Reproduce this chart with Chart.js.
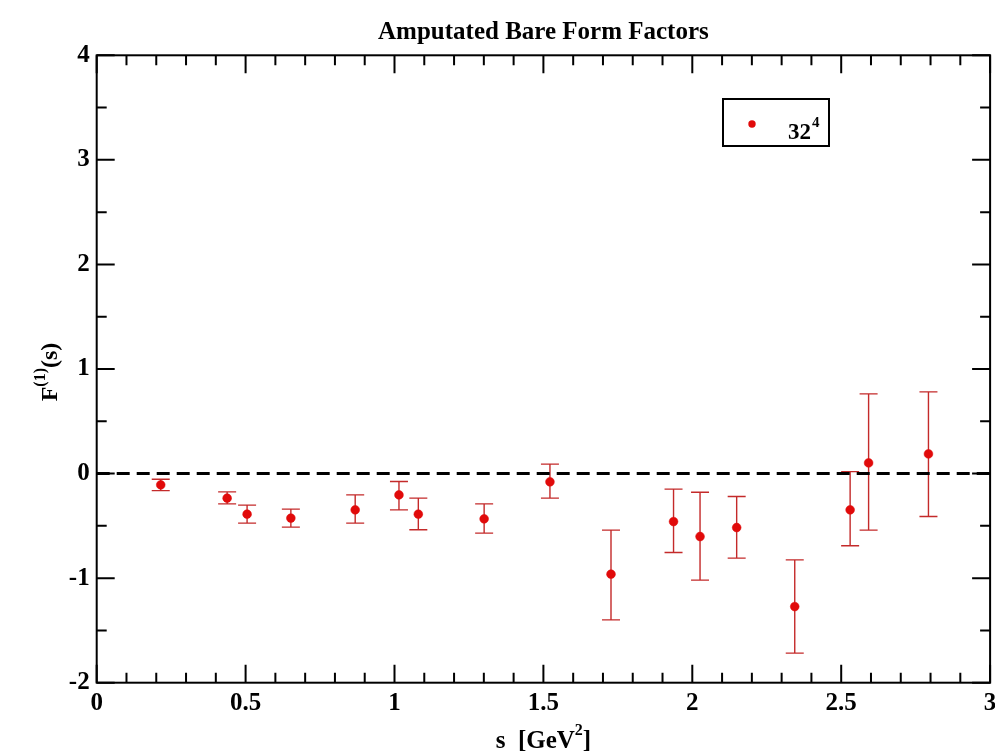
<!DOCTYPE html>
<html>
<head>
<meta charset="utf-8">
<script src="https://cdn.jsdelivr.net/npm/chart.js@4.4.0/dist/chart.umd.min.js"></script>
<style>
html,body{margin:0;padding:0;background:#fff;overflow:hidden;}
canvas{display:block;}
</style>
</head>
<body>
<canvas id="c" width="995" height="756"></canvas>
<script>
// ---- data ----
const sValues = [0.215, 0.438, 0.505, 0.652, 0.868, 1.015, 1.080, 1.301, 1.522, 1.727, 1.937, 2.026, 2.149, 2.344, 2.530, 2.592, 2.793];
const fValues = [-0.108, -0.235, -0.388, -0.426, -0.347, -0.204, -0.388, -0.433, -0.079, -0.962, -0.459, -0.602, -0.516, -1.272, -0.347, 0.102, 0.188];
const fUpper  = [-0.054, -0.175, -0.302, -0.340, -0.204, -0.076, -0.235, -0.290, 0.090, -0.541, -0.149, -0.178, -0.220, -0.825, 0.019, 0.762, 0.781];
const fLower  = [-0.163, -0.290, -0.474, -0.512, -0.474, -0.347, -0.538, -0.570, -0.235, -1.399, -0.755, -1.019, -0.809, -1.717, -0.691, -0.541, -0.411];
const xMajorTicks = [0, 0.5, 1, 1.5, 2, 2.5, 3];
const xMinorTicks = [0.1,0.2,0.3,0.4,0.6,0.7,0.8,0.9,1.1,1.2,1.3,1.4,1.6,1.7,1.8,1.9,2.1,2.2,2.3,2.4,2.6,2.7,2.8,2.9];
const yMajorTicks = [-2, -1, 0, 1, 2, 3, 4];
const yMinorTicks = [-1.5, -0.5, 0.5, 1.5, 2.5, 3.5];
const zeroLine = [0, 3];
const titleText = "Amputated Bare Form Factors";
const seriesName = "32";
const seriesSup = "4";

const SERIF = '"Liberation Serif", "Times New Roman", serif';
const RED = '#e10a0a';
const BAR = '#c42a2a';

const points = sValues.map((s, i) => ({x: s, y: fValues[i]}));

const decorPlugin = {
  id: 'decor',
  beforeDatasetsDraw(chart) {
    const ctx = chart.ctx, xs = chart.scales.x, ys = chart.scales.y;
    ctx.save();
    ctx.strokeStyle = BAR;
    ctx.lineWidth = 1.4;
    sValues.forEach((s, i) => {
      const px = xs.getPixelForValue(s);
      const pt = ys.getPixelForValue(fUpper[i]);
      const pb = ys.getPixelForValue(fLower[i]);
      ctx.beginPath();
      ctx.moveTo(px, pt); ctx.lineTo(px, pb);
      ctx.moveTo(px - 9, pt); ctx.lineTo(px + 9, pt);
      ctx.moveTo(px - 9, pb); ctx.lineTo(px + 9, pb);
      ctx.stroke();
    });
    ctx.restore();
  },
  afterDraw(chart) {
    const ctx = chart.ctx, xs = chart.scales.x, ys = chart.scales.y;
    const a = chart.chartArea;
    ctx.save();
    ctx.strokeStyle = '#000';
    ctx.lineWidth = 2;
    ctx.strokeRect(a.left, a.top, a.right - a.left, a.bottom - a.top);
    ctx.beginPath();
    const tick = (vals, len) => {
      vals.forEach(v => {
        const px = xs.getPixelForValue(v);
        ctx.moveTo(px, a.bottom); ctx.lineTo(px, a.bottom - len);
        ctx.moveTo(px, a.top); ctx.lineTo(px, a.top + len);
      });
    };
    const tickY = (vals, len) => {
      vals.forEach(v => {
        const py = ys.getPixelForValue(v);
        ctx.moveTo(a.left, py); ctx.lineTo(a.left + len, py);
        ctx.moveTo(a.right, py); ctx.lineTo(a.right - len, py);
      });
    };
    tick(xMajorTicks, 18); tick(xMinorTicks, 10);
    tickY(yMajorTicks, 18); tickY(yMinorTicks, 10);
    ctx.stroke();

    const cx = (a.left + a.right) / 2;
    ctx.fillStyle = '#000';
    ctx.textAlign = 'center';
    ctx.textBaseline = 'middle';
    ctx.font = 'bold 25px ' + SERIF;
    ctx.fillText(titleText, cx, 33);

    const drawParts = (parts, x0, y0) => {
      let w = 0;
      parts.forEach(p => { ctx.font = p.f; w += ctx.measureText(p.t).width; });
      let x = x0 - w / 2;
      ctx.textAlign = 'left';
      ctx.textBaseline = 'alphabetic';
      parts.forEach(p => { ctx.font = p.f; ctx.fillText(p.t, x, y0 + p.dy); x += ctx.measureText(p.t).width; });
    };
    drawParts([
      {t: 's  [GeV', f: 'bold 25px ' + SERIF, dy: 0},
      {t: '2', f: 'bold 16px ' + SERIF, dy: -13},
      {t: ']', f: 'bold 25px ' + SERIF, dy: 0}
    ], cx, 748);

    ctx.save();
    ctx.translate(57, (a.top + a.bottom) / 2 + 3);
    ctx.rotate(-Math.PI / 2);
    drawParts([
      {t: 'F', f: 'bold 24px ' + SERIF, dy: 0},
      {t: '(1)', f: 'bold 16px ' + SERIF, dy: -12},
      {t: '(s)', f: 'bold 24px ' + SERIF, dy: 0}
    ], 0, 0);
    ctx.restore();

    ctx.lineWidth = 2;
    ctx.strokeStyle = '#000';
    ctx.strokeRect(723, 99, 106, 47);
    ctx.fillStyle = RED;
    ctx.beginPath();
    ctx.arc(752, 124, 3.7, 0, Math.PI * 2);
    ctx.fill();
    ctx.fillStyle = '#000';
    ctx.textAlign = 'left';
    ctx.textBaseline = 'alphabetic';
    ctx.font = 'bold 23px ' + SERIF;
    ctx.fillText(seriesName, 788, 139);
    const w32 = ctx.measureText(seriesName).width;
    ctx.font = 'bold 15px ' + SERIF;
    ctx.fillText(seriesSup, 788 + w32 + 1, 127);
    ctx.restore();
  }
};

new Chart(document.getElementById('c'), {
  type: 'scatter',
  data: {
    datasets: [
      {
        type: 'line',
        data: zeroLine.map(x => ({x: x, y: 0})),
        borderColor: '#000',
        borderWidth: 3,
        borderDash: [13, 7],
        pointRadius: 0,
        fill: false,
        order: 2
      },
      {
        data: points,
        pointStyle: 'circle',
        pointRadius: 4.4,
        pointBackgroundColor: RED,
        pointBorderColor: RED,
        pointBorderWidth: 0.5,
        order: 1
      }
    ]
  },
  options: {
    responsive: false,
    animation: false,
    devicePixelRatio: 1,
    layout: {padding: {top: 55.3, right: 3, bottom: 0, left: 0}},
    plugins: {legend: {display: false}, tooltip: {enabled: false}, title: {display: false}},
    scales: {
      x: {
        type: 'linear', min: 0, max: 3,
        grid: {display: false, drawTicks: false},
        border: {display: false},
        afterBuildTicks: (s) => { s.ticks = xMajorTicks.map(v => ({value: v})); },
        ticks: {
          padding: 6, color: '#000', maxRotation: 0, autoSkip: false,
          font: {family: SERIF, size: 25, weight: 'bold'},
          callback: (v) => String(v)
        },
        afterFit: (s) => { s.height = 73.3; s.paddingLeft = 0; s.paddingRight = 0; }
      },
      y: {
        type: 'linear', min: -2, max: 4,
        grid: {display: false, drawTicks: false},
        border: {display: false},
        afterBuildTicks: (s) => { s.ticks = yMajorTicks.map(v => ({value: v})); },
        ticks: {
          padding: 7, color: '#000', autoSkip: false,
          font: {family: SERIF, size: 25, weight: 'bold'},
          callback: (v) => String(v)
        },
        afterFit: (s) => { s.width = 96.7; s.paddingTop = 0; s.paddingBottom = 0; }
      }
    }
  },
  plugins: [decorPlugin]
});
</script>
</body>
</html>
